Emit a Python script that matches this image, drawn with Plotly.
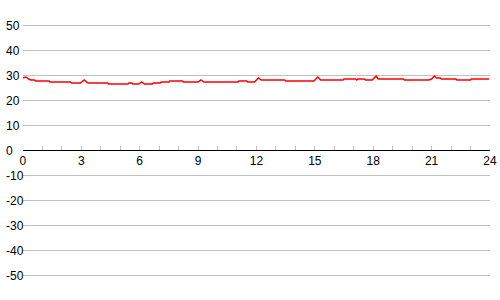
import plotly.graph_objects as go

hours = [0.0, 0.15, 0.3, 0.4, 0.6, 0.65, 1.35, 1.4, 2.45, 2.5, 2.95, 3.15, 3.35, 4.35, 4.4,
         5.4, 5.45, 5.6, 5.65, 5.95, 6.1, 6.25, 6.65, 6.7, 7.05, 7.1, 7.5, 7.55, 8.2, 8.25,
         9.0, 9.15, 9.3, 11.05, 11.1, 11.5, 11.55, 11.9, 12.1, 12.25, 13.45, 13.5, 14.95,
         15.15, 15.3, 16.45, 16.5, 17.1, 17.15, 17.2, 17.55, 17.6, 17.95, 18.15, 18.25,
         19.55, 19.6, 20.85, 21.0, 21.15, 21.25, 21.45, 21.5, 22.25, 22.3, 23.0, 23.05, 23.95]
values = [28.8, 29.2, 28.4, 28.0, 28.0, 27.6, 27.6, 27.2, 27.2, 26.8, 26.8, 28.0, 26.8, 26.8, 26.4,
          26.4, 26.8, 26.8, 26.4, 26.4, 27.2, 26.4, 26.4, 26.8, 26.8, 27.2, 27.2, 27.6, 27.6, 27.2,
          27.2, 28.0, 27.2, 27.2, 27.6, 27.6, 27.2, 27.2, 28.8, 28.0, 28.0, 27.6, 27.6,
          29.2, 28.0, 28.0, 28.4, 28.4, 28.0, 28.4, 28.4, 28.0, 28.0, 29.6, 28.4,
          28.4, 28.0, 28.0, 28.4, 29.6, 28.8, 28.8, 28.4, 28.4, 28.0, 28.0, 28.4, 28.4]

xtick_vals = [0, 3, 6, 9, 12, 15, 18, 21, 24]
xtick_labels = ["0", "3", "6", "9", "12", "15", "18", "21", "24"]
ytick_vals = [-50, -40, -30, -20, -10, 0, 10, 20, 30, 40, 50]
ytick_labels = ["-50", "-40", "-30", "-20", "-10", "0", "10", "20", "30", "40", "50"]

font = dict(family="Liberation Sans, Arial", size=12, color="black")

fig = go.Figure()
fig.add_trace(go.Scatter(x=hours, y=values, mode="lines",
                         line=dict(color="#ff0000", width=1.5), hoverinfo="skip"))

fig.update_layout(
    width=500, height=300,
    margin=dict(l=0, r=10, t=0, b=0),
    paper_bgcolor="white", plot_bgcolor="white",
    showlegend=False, font=font,
    xaxis=dict(domain=[20 / 490, 1.0], range=[0, 24], anchor="free", position=0.5,
               tickvals=xtick_vals, ticktext=xtick_labels,
               showgrid=False, zeroline=False,
               showline=True, linecolor="black", linewidth=1,
               ticks="inside", ticklen=4, tickcolor="#c0c0c0", tickwidth=1,
               minor=dict(dtick=1, ticks="inside", ticklen=4, tickcolor="#c0c0c0", tickwidth=1, showgrid=False),
               tickfont=font, fixedrange=True),
    yaxis=dict(range=[-60, 60], anchor="free", position=0,
               tickvals=ytick_vals, showticklabels=False, ticks="",
               showgrid=True, gridcolor="#c0c0c0", gridwidth=1,
               zeroline=False, showline=False, fixedrange=True),
)

for v, t in zip(ytick_vals, ytick_labels):
    fig.add_annotation(x=0, xref="paper", xanchor="left", y=v, yref="y", yanchor="middle",
                       text=t, showarrow=False, font=font, yshift=-1, xshift=1)

fig.write_html("out.html")
